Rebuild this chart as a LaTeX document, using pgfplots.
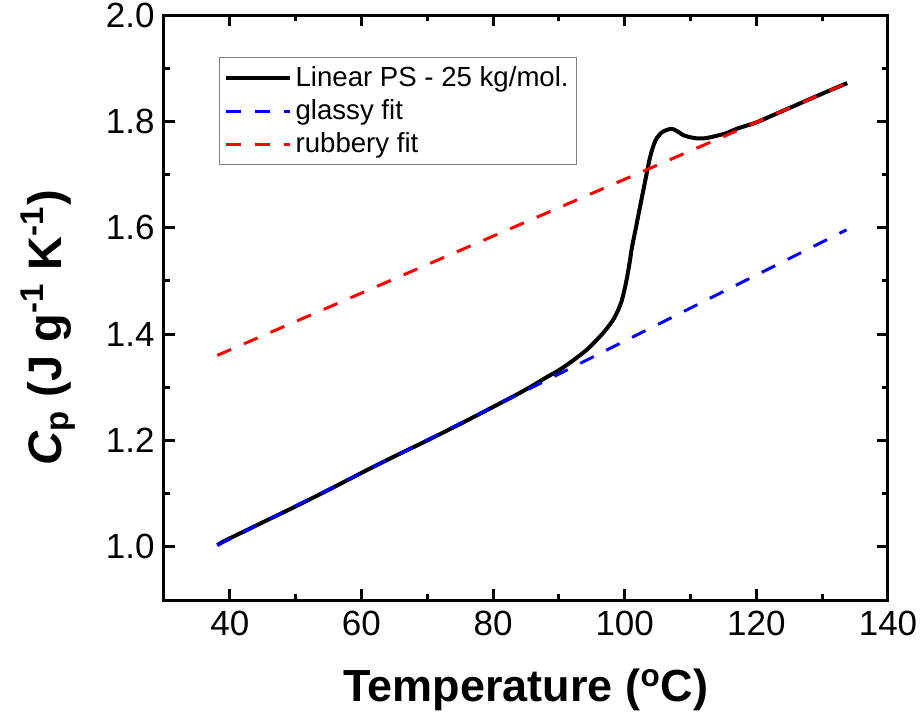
\documentclass[border=0pt]{standalone}
\usepackage{pgfplots}
\pgfplotsset{compat=1.18}
\usepackage{fontspec}
\setmainfont{Liberation Sans}
\begin{document}
\begin{tikzpicture}
\useasboundingbox (-82pt,-59.5pt) rectangle (379.5pt,300pt);
\begin{axis}[
  scale only axis,
  width=362pt, height=292.5pt,
  xmin=30, xmax=140, ymin=0.9, ymax=2.0,
  xtick={40,60,80,100,120,140},
  ytick={1.0,1.2,1.4,1.6,1.8,2.0},
  minor x tick num=1, minor y tick num=1,
  tick align=inside,
  major tick length=5.5pt, minor tick length=3pt,
  axis line style={line width=1.5pt},
  every tick/.style={line width=1.5pt, black},
  /pgf/number format/assume math mode=true,
  yticklabel style={/pgf/number format/fixed, /pgf/number format/fixed zerofill, /pgf/number format/precision=1, font=\fontsize{17.5}{19}\selectfont, xshift=-1.2pt},
  xticklabel style={font=\fontsize{17.5}{19}\selectfont, yshift=-2pt},
  xlabel={\textbf{Temperature (\textsuperscript{o}C)}},
  ylabel={\textbf{\textit{C}\textsubscript{p} (J g\textsuperscript{-1} K\textsuperscript{-1})}},
  xlabel style={font=\fontsize{22.5}{25}\selectfont, at={(axis description cs:0.5,-0.154)}, anchor=center},
  ylabel style={font=\fontsize{23.5}{26}\selectfont, at={(axis description cs:-0.16,0.465)}, anchor=center},
  legend style={at={(axis description cs:0.076,0.928)}, anchor=north west, draw=gray, line width=0.6pt, font=\fontsize{13.8}{16}\selectfont, row sep=1pt, inner xsep=2pt, inner ysep=2.5pt},
  legend cell align=left,
  legend image code/.code={\draw[#1] (0pt,0pt) -- (32pt,0pt);},
]
\addplot[black, line width=2pt, line join=round, smooth, tension=0.35] coordinates {
(38.1,1.003) (39,1.010) (40,1.016) (42,1.028) (45,1.046) (50,1.076) (55,1.107)
(60,1.139) (65,1.170) (70,1.200) (75,1.231) (80,1.263) (82,1.276) (84,1.289)
(86,1.303) (88,1.318) (90,1.332) (92,1.349) (94,1.368) (95.2,1.382) (96.5,1.399)
(97.5,1.414) (98.3,1.428) (99.0,1.445) (99.5,1.461) (99.9,1.480) (100.3,1.503)
(100.7,1.531) (101.1,1.563) (101.7,1.600) (102.3,1.638) (102.9,1.675) (103.4,1.706)
(103.8,1.730) (104.1,1.744) (104.5,1.759) (104.9,1.769) (105.6,1.779) (106.4,1.784)
(107.1,1.786) (107.6,1.784) (108.3,1.779) (108.9,1.774) (110,1.770) (111,1.768)
(112,1.768) (113,1.770) (114,1.773) (115.5,1.778) (117,1.786) (118.5,1.792)
(120,1.798) (125,1.825) (130,1.852) (133.8,1.872)
};
\addlegendentry{Linear PS - 25 kg/mol.}
\addplot[blue, line width=1.5pt, dash pattern=on 7.5pt off 7pt] coordinates {
(38.1,1.003) (133.7,1.596)
};
\addlegendentry{glassy fit}
\addplot[red, line width=1.5pt, dash pattern=on 7.5pt off 7pt] coordinates {
(38.1,1.360) (133.8,1.872)
};
\addlegendentry{rubbery fit}
\end{axis}
\end{tikzpicture}
\end{document}
